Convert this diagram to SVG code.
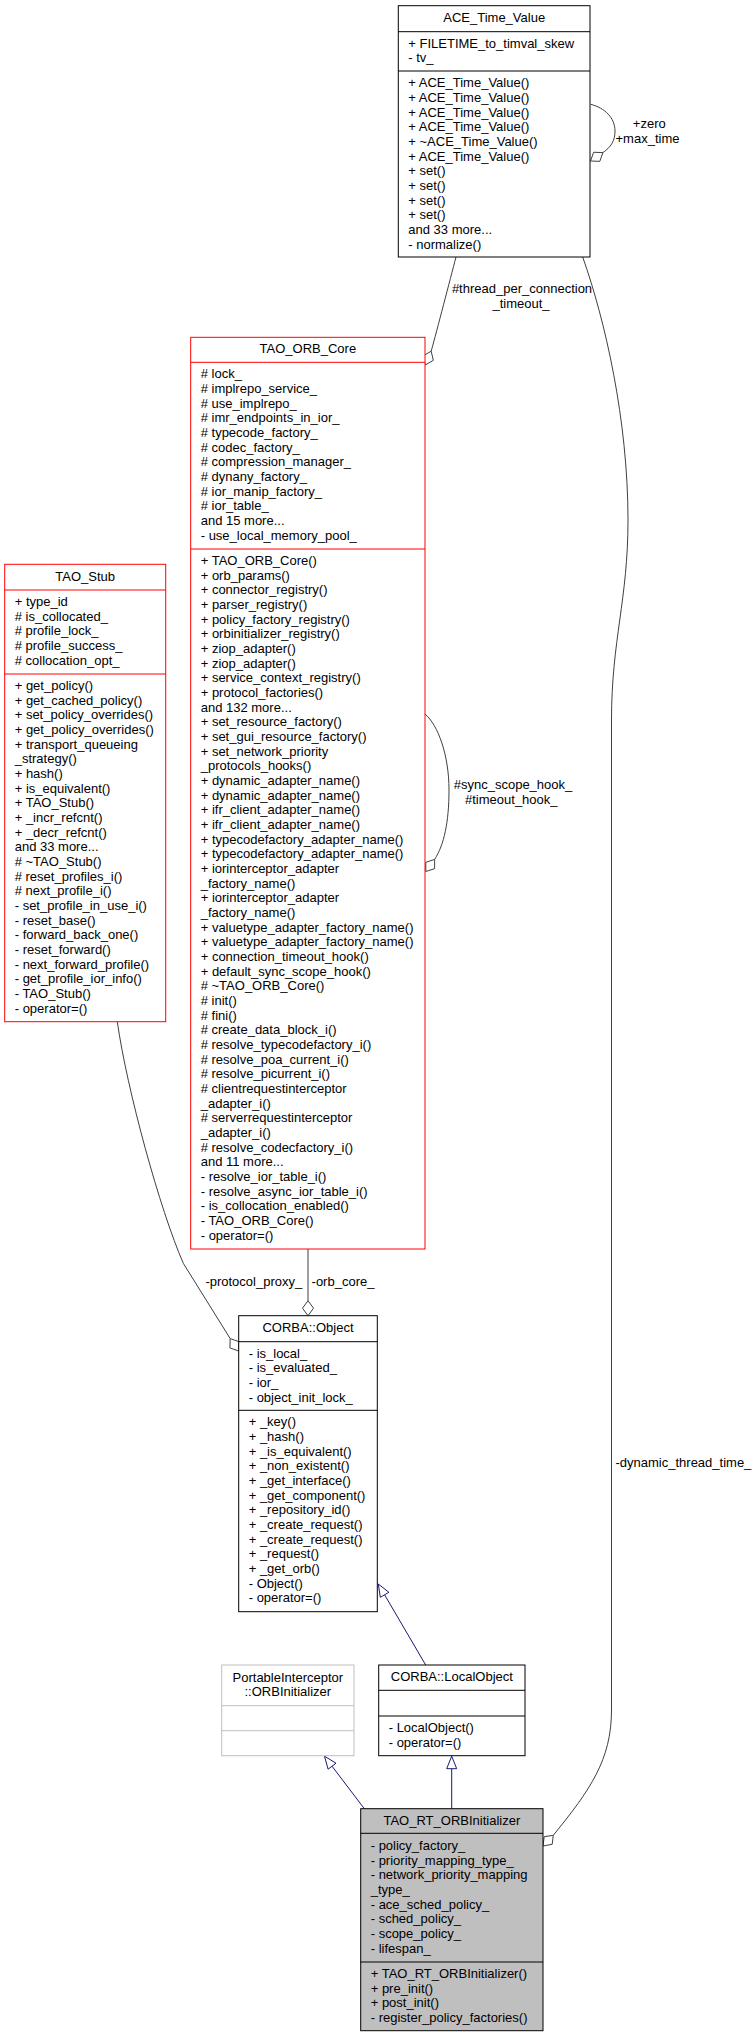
<svg xmlns="http://www.w3.org/2000/svg" width="756" height="2037" viewBox="0 0 756 2037">
<style>
text{font-family:"Liberation Sans",Arial,Helvetica,sans-serif;font-size:13px;fill:#000}
.c{text-anchor:middle}
.box{fill:#fff;stroke:#000;stroke-width:1}
.red{stroke:#ff0000}
.gry{stroke:#bfbfbf}
.cur{fill:#bfbfbf}
.sep{stroke:#000;stroke-width:1}
.sepr{stroke:#ff0000;stroke-width:1}
.sepg{stroke:#bfbfbf;stroke-width:1}
.agg{fill:none;stroke:#404040;stroke-width:1}
.inh{fill:none;stroke:#191970;stroke-width:1}
.dia{fill:#fff;stroke:#404040;stroke-width:1}
.tri{fill:#fff;stroke:#191970;stroke-width:1}
</style>
<rect width="756" height="2037" fill="#fff"/>

<g id="edges">
  <!-- ACE self loop -->
  <path class="agg" d="M590.7,104.3 C605,108 615,118 615,131 C615,141 611,147 602.9,152.6"/>
  <polygon class="dia" points="590.5,161 599.8,161.35 602.9,152.6 593.6,152.25"/>
  <text class="c" x="649.3" y="128.3">+zero</text>
  <text class="c" x="647.5" y="142.7">+max_time</text>

  <!-- thread_per_connection_timeout_ -->
  <path class="agg" d="M456,257 C450,280 437,330 431.2,351.2"/>
  <polygon class="dia" points="425.3,365 433.3,360.3 431.2,351.2 423.2,355.9"/>
  <text class="c" x="522" y="293.3">#thread_per_connection</text>
  <text class="c" x="521" y="308">_timeout_</text>

  <!-- ORB self loop -->
  <path class="agg" d="M425,714 C438,725 449,755 449,790 C449,822 444,845 434.65,859.4"/>
  <polygon class="dia" points="425.8,871.5 434.6,868.7 434.65,859.4 425.8,862.3"/>
  <text class="c" x="513" y="789.3">#sync_scope_hook_</text>
  <text class="c" x="511.3" y="804">#timeout_hook_</text>

  <!-- dynamic_thread_time_ -->
  <path class="agg" d="M582.7,257 C605,320 628,420 628,520 C628,600 611.5,640 611.5,720 L611.5,1710 C611.5,1760 590,1790 553.3,1835.3"/>
  <polygon class="dia" points="543,1846 552.2,1844.3 553.3,1835.3 544.2,1836.7"/>
  <text x="615.5" y="1467">-dynamic_thread_time_</text>

  <!-- protocol_proxy_ -->
  <path class="agg" d="M117.3,1021.7 C127,1090 160,1210 183.3,1263.3 L230.2,1338.6"/>
  <polygon class="dia" points="238.7,1351 239,1341.7 230.2,1338.6 229.9,1347.9"/>
  <text class="c" x="253.8" y="1286">-protocol_proxy_</text>

  <!-- orb_core_ -->
  <path class="agg" d="M308,1249 L308,1300.7"/>
  <polygon class="dia" points="308,1315.7 313.5,1308.2 308,1300.7 302.5,1308.2"/>
  <text class="c" x="343" y="1286">-orb_core_</text>

  <!-- LocalObject -> Object -->
  <path class="inh" d="M425.7,1665 L384.6,1594.8"/>
  <polygon class="tri" points="378.3,1584 388.9,1592.3 380.3,1597.3"/>

  <!-- TAO_RT -> PI ORBInitializer -->
  <path class="inh" d="M364.3,1808.7 L332.05,1766.2"/>
  <polygon class="tri" points="324.5,1756.2 336,1763.2 328.1,1769.2"/>

  <!-- TAO_RT -> LocalObject -->
  <path class="inh" d="M451.7,1808.7 L451.7,1768.7"/>
  <polygon class="tri" points="451.7,1756.2 456.7,1768.7 446.7,1768.7"/>
</g>

<g id="ACE_Time_Value">
  <rect class="box" x="398.3" y="5.7" width="191.7" height="251.3"/>
  <line class="sep" x1="398.3" y1="31.7" x2="590" y2="31.7"/>
  <line class="sep" x1="398.3" y1="71" x2="590" y2="71"/>
  <text class="c" x="494.2" y="21.7">ACE_Time_Value</text>
  <text x="408.3" y="47.7"><tspan x="408.3">+ FILETIME_to_timval_skew</tspan><tspan x="408.3" dy="14.67">- tv_</tspan></text>
  <text x="408.3" y="87.3"><tspan x="408.3">+ ACE_Time_Value()</tspan><tspan x="408.3" dy="14.67">+ ACE_Time_Value()</tspan><tspan x="408.3" dy="14.67">+ ACE_Time_Value()</tspan><tspan x="408.3" dy="14.67">+ ACE_Time_Value()</tspan><tspan x="408.3" dy="14.67">+ ~ACE_Time_Value()</tspan><tspan x="408.3" dy="14.67">+ ACE_Time_Value()</tspan><tspan x="408.3" dy="14.67">+ set()</tspan><tspan x="408.3" dy="14.67">+ set()</tspan><tspan x="408.3" dy="14.67">+ set()</tspan><tspan x="408.3" dy="14.67">+ set()</tspan><tspan x="408.3" dy="14.67">and 33 more...</tspan><tspan x="408.3" dy="14.67">- normalize()</tspan></text>
</g>

<g id="TAO_ORB_Core">
  <rect class="box red" x="190.7" y="337.3" width="234.3" height="911.7"/>
  <line class="sepr" x1="190.7" y1="362.3" x2="425" y2="362.3"/>
  <line class="sepr" x1="190.7" y1="549" x2="425" y2="549"/>
  <text class="c" x="307.85" y="353.3">TAO_ORB_Core</text>
  <text x="200.7" y="378.3"><tspan x="200.7"># lock_</tspan><tspan x="200.7" dy="14.67"># implrepo_service_</tspan><tspan x="200.7" dy="14.67"># use_implrepo_</tspan><tspan x="200.7" dy="14.67"># imr_endpoints_in_ior_</tspan><tspan x="200.7" dy="14.67"># typecode_factory_</tspan><tspan x="200.7" dy="14.67"># codec_factory_</tspan><tspan x="200.7" dy="14.67"># compression_manager_</tspan><tspan x="200.7" dy="14.67"># dynany_factory_</tspan><tspan x="200.7" dy="14.67"># ior_manip_factory_</tspan><tspan x="200.7" dy="14.67"># ior_table_</tspan><tspan x="200.7" dy="14.67">and 15 more...</tspan><tspan x="200.7" dy="14.67">- use_local_memory_pool_</tspan></text>
  <text x="200.7" y="565"><tspan x="200.7">+ TAO_ORB_Core()</tspan><tspan x="200.7" dy="14.67">+ orb_params()</tspan><tspan x="200.7" dy="14.67">+ connector_registry()</tspan><tspan x="200.7" dy="14.67">+ parser_registry()</tspan><tspan x="200.7" dy="14.67">+ policy_factory_registry()</tspan><tspan x="200.7" dy="14.67">+ orbinitializer_registry()</tspan><tspan x="200.7" dy="14.67">+ ziop_adapter()</tspan><tspan x="200.7" dy="14.67">+ ziop_adapter()</tspan><tspan x="200.7" dy="14.67">+ service_context_registry()</tspan><tspan x="200.7" dy="14.67">+ protocol_factories()</tspan><tspan x="200.7" dy="14.67">and 132 more...</tspan><tspan x="200.7" dy="14.67">+ set_resource_factory()</tspan><tspan x="200.7" dy="14.67">+ set_gui_resource_factory()</tspan><tspan x="200.7" dy="14.67">+ set_network_priority</tspan><tspan x="200.7" dy="14.67">_protocols_hooks()</tspan><tspan x="200.7" dy="14.67">+ dynamic_adapter_name()</tspan><tspan x="200.7" dy="14.67">+ dynamic_adapter_name()</tspan><tspan x="200.7" dy="14.67">+ ifr_client_adapter_name()</tspan><tspan x="200.7" dy="14.67">+ ifr_client_adapter_name()</tspan><tspan x="200.7" dy="14.67">+ typecodefactory_adapter_name()</tspan><tspan x="200.7" dy="14.67">+ typecodefactory_adapter_name()</tspan><tspan x="200.7" dy="14.67">+ iorinterceptor_adapter</tspan><tspan x="200.7" dy="14.67">_factory_name()</tspan><tspan x="200.7" dy="14.67">+ iorinterceptor_adapter</tspan><tspan x="200.7" dy="14.67">_factory_name()</tspan><tspan x="200.7" dy="14.67">+ valuetype_adapter_factory_name()</tspan><tspan x="200.7" dy="14.67">+ valuetype_adapter_factory_name()</tspan><tspan x="200.7" dy="14.67">+ connection_timeout_hook()</tspan><tspan x="200.7" dy="14.67">+ default_sync_scope_hook()</tspan><tspan x="200.7" dy="14.67"># ~TAO_ORB_Core()</tspan><tspan x="200.7" dy="14.67"># init()</tspan><tspan x="200.7" dy="14.67"># fini()</tspan><tspan x="200.7" dy="14.67"># create_data_block_i()</tspan><tspan x="200.7" dy="14.67"># resolve_typecodefactory_i()</tspan><tspan x="200.7" dy="14.67"># resolve_poa_current_i()</tspan><tspan x="200.7" dy="14.67"># resolve_picurrent_i()</tspan><tspan x="200.7" dy="14.67"># clientrequestinterceptor</tspan><tspan x="200.7" dy="14.67">_adapter_i()</tspan><tspan x="200.7" dy="14.67"># serverrequestinterceptor</tspan><tspan x="200.7" dy="14.67">_adapter_i()</tspan><tspan x="200.7" dy="14.67"># resolve_codecfactory_i()</tspan><tspan x="200.7" dy="14.67">and 11 more...</tspan><tspan x="200.7" dy="14.67">- resolve_ior_table_i()</tspan><tspan x="200.7" dy="14.67">- resolve_async_ior_table_i()</tspan><tspan x="200.7" dy="14.67">- is_collocation_enabled()</tspan><tspan x="200.7" dy="14.67">- TAO_ORB_Core()</tspan><tspan x="200.7" dy="14.67">- operator=()</tspan></text>
</g>

<g id="TAO_Stub">
  <rect class="box red" x="4.7" y="564.3" width="161" height="457.4"/>
  <line class="sepr" x1="4.7" y1="590" x2="165.7" y2="590"/>
  <line class="sepr" x1="4.7" y1="674" x2="165.7" y2="674"/>
  <text class="c" x="85.2" y="580.5">TAO_Stub</text>
  <text x="14.7" y="606"><tspan x="14.7">+ type_id</tspan><tspan x="14.7" dy="14.67"># is_collocated_</tspan><tspan x="14.7" dy="14.67"># profile_lock_</tspan><tspan x="14.7" dy="14.67"># profile_success_</tspan><tspan x="14.7" dy="14.67"># collocation_opt_</tspan></text>
  <text x="14.7" y="690"><tspan x="14.7">+ get_policy()</tspan><tspan x="14.7" dy="14.67">+ get_cached_policy()</tspan><tspan x="14.7" dy="14.67">+ set_policy_overrides()</tspan><tspan x="14.7" dy="14.67">+ get_policy_overrides()</tspan><tspan x="14.7" dy="14.67">+ transport_queueing</tspan><tspan x="14.7" dy="14.67">_strategy()</tspan><tspan x="14.7" dy="14.67">+ hash()</tspan><tspan x="14.7" dy="14.67">+ is_equivalent()</tspan><tspan x="14.7" dy="14.67">+ TAO_Stub()</tspan><tspan x="14.7" dy="14.67">+ _incr_refcnt()</tspan><tspan x="14.7" dy="14.67">+ _decr_refcnt()</tspan><tspan x="14.7" dy="14.67">and 33 more...</tspan><tspan x="14.7" dy="14.67"># ~TAO_Stub()</tspan><tspan x="14.7" dy="14.67"># reset_profiles_i()</tspan><tspan x="14.7" dy="14.67"># next_profile_i()</tspan><tspan x="14.7" dy="14.67">- set_profile_in_use_i()</tspan><tspan x="14.7" dy="14.67">- reset_base()</tspan><tspan x="14.7" dy="14.67">- forward_back_one()</tspan><tspan x="14.7" dy="14.67">- reset_forward()</tspan><tspan x="14.7" dy="14.67">- next_forward_profile()</tspan><tspan x="14.7" dy="14.67">- get_profile_ior_info()</tspan><tspan x="14.7" dy="14.67">- TAO_Stub()</tspan><tspan x="14.7" dy="14.67">- operator=()</tspan></text>
</g>

<g id="CORBA_Object">
  <rect class="box" x="238.7" y="1315.7" width="138.6" height="296"/>
  <line class="sep" x1="238.7" y1="1341.7" x2="377.3" y2="1341.7"/>
  <line class="sep" x1="238.7" y1="1410.3" x2="377.3" y2="1410.3"/>
  <text class="c" x="308" y="1331.7">CORBA::Object</text>
  <text x="248.7" y="1357.7"><tspan x="248.7">- is_local_</tspan><tspan x="248.7" dy="14.67">- is_evaluated_</tspan><tspan x="248.7" dy="14.67">- ior_</tspan><tspan x="248.7" dy="14.67">- object_init_lock_</tspan></text>
  <text x="248.7" y="1426.3"><tspan x="248.7">+ _key()</tspan><tspan x="248.7" dy="14.67">+ _hash()</tspan><tspan x="248.7" dy="14.67">+ _is_equivalent()</tspan><tspan x="248.7" dy="14.67">+ _non_existent()</tspan><tspan x="248.7" dy="14.67">+ _get_interface()</tspan><tspan x="248.7" dy="14.67">+ _get_component()</tspan><tspan x="248.7" dy="14.67">+ _repository_id()</tspan><tspan x="248.7" dy="14.67">+ _create_request()</tspan><tspan x="248.7" dy="14.67">+ _create_request()</tspan><tspan x="248.7" dy="14.67">+ _request()</tspan><tspan x="248.7" dy="14.67">+ _get_orb()</tspan><tspan x="248.7" dy="14.67">- Object()</tspan><tspan x="248.7" dy="14.67">- operator=()</tspan></text>
</g>

<g id="PortableInterceptor_ORBInitializer">
  <rect class="box gry" x="221.7" y="1665" width="132.3" height="90.7"/>
  <line class="sepg" x1="221.7" y1="1705.7" x2="354" y2="1705.7"/>
  <line class="sepg" x1="221.7" y1="1730.7" x2="354" y2="1730.7"/>
  <text class="c" x="287.85" y="1681.7">PortableInterceptor</text>
  <text class="c" x="287.85" y="1696.3">::ORBInitializer</text>
</g>

<g id="CORBA_LocalObject">
  <rect class="box" x="378.7" y="1665" width="146.3" height="90.7"/>
  <line class="sep" x1="378.7" y1="1690.3" x2="525" y2="1690.3"/>
  <line class="sep" x1="378.7" y1="1716" x2="525" y2="1716"/>
  <text class="c" x="451.85" y="1681">CORBA::LocalObject</text>
  <text x="388.7" y="1732"><tspan x="388.7">- LocalObject()</tspan><tspan x="388.7" dy="14.67">- operator=()</tspan></text>
</g>

<g id="TAO_RT_ORBInitializer">
  <rect class="box cur" x="360.7" y="1808.7" width="182.3" height="222"/>
  <line class="sep" x1="360.7" y1="1833.3" x2="543" y2="1833.3"/>
  <line class="sep" x1="360.7" y1="1962" x2="543" y2="1962"/>
  <text class="c" x="451.85" y="1824.7">TAO_RT_ORBInitializer</text>
  <text x="370.7" y="1850"><tspan x="370.7">- policy_factory_</tspan><tspan x="370.7" dy="14.67">- priority_mapping_type_</tspan><tspan x="370.7" dy="14.67">- network_priority_mapping</tspan><tspan x="370.7" dy="14.67">_type_</tspan><tspan x="370.7" dy="14.67">- ace_sched_policy_</tspan><tspan x="370.7" dy="14.67">- sched_policy_</tspan><tspan x="370.7" dy="14.67">- scope_policy_</tspan><tspan x="370.7" dy="14.67">- lifespan_</tspan></text>
  <text x="370.7" y="1978"><tspan x="370.7">+ TAO_RT_ORBInitializer()</tspan><tspan x="370.7" dy="14.67">+ pre_init()</tspan><tspan x="370.7" dy="14.67">+ post_init()</tspan><tspan x="370.7" dy="14.67">- register_policy_factories()</tspan></text>
</g>
</svg>
